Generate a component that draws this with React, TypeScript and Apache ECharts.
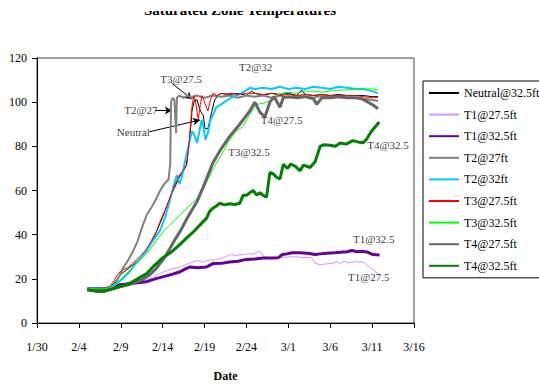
import React, { useEffect, useRef } from "react";
import * as echarts from "echarts";

// x values are days after Jan 30
const tickLabels = ["1/30", "2/4", "2/9", "2/14", "2/19", "2/24", "3/1", "3/6", "3/11", "3/16"];

const neutral325 = [[6,15.5],[8,15.5],[8.6,16],[9.2,18],[10,22],[11,25],[12,28],[13,32],[14,39],[15,48],[16,58],[17,66],[17.8,71],[18.2,82],[18.5,96],[18.8,101],[19.1,101],[19.5,96],[19.85,94],[20.05,88],[20.4,88],[20.85,95.5],[21.2,101],[21.6,103],[22,104],[23,103.5],[24,104],[25,103],[25.6,105],[26,104],[27,103],[28,104],[29,103.5],[30,104],[31,103],[31.6,105.5],[32,103.5],[33,103],[34,103.5],[35,103],[36,103.5],[37,103],[38,103],[39,103],[40,102.5],[40.7,102.5]];
const t1_275 = [[6,15.5],[8,15.5],[8.7,16],[9.5,17],[10.3,17.5],[11.1,18],[12.1,19],[13.1,19.5],[14.1,21.5],[15.1,23.2],[16.1,24.5],[17.1,25.4],[18.1,27],[19.1,28.3],[19.8,27.5],[20.5,28.5],[21.2,28.5],[21.8,29.1],[22.5,30],[23.2,31],[23.8,30.6],[24.5,31],[25.2,31.3],[25.8,31.3],[26.6,32.5],[27.1,30],[27.6,29.3],[28.2,29.8],[29,29.5],[29.6,29.8],[30.5,30],[31.4,29.8],[32.2,29.6],[32.8,29.5],[33.2,27],[33.8,26.4],[34.6,26.8],[35.2,27],[35.8,27.9],[36.2,26.8],[36.6,27.9],[37.2,27.3],[38,27.8],[38.9,27.5],[39.7,25.4],[40.3,23.5],[40.9,22]];
const t1_325 = [[6,15.5],[8,15.5],[8.8,16],[9.9,17.3],[11,17.8],[12,18.2],[13.1,18.7],[14.1,20],[15.1,21],[16.1,22],[17.1,23.2],[17.7,24.5],[18.3,25.4],[19.2,25],[20.25,25.4],[21,26.9],[22,27],[23,27.6],[24,28],[25,28.8],[26,29],[27,29.4],[28,29.4],[28.8,29.6],[29.3,31],[29.8,31.3],[30.5,31.8],[31.5,31.8],[32.5,31.5],[33.2,31],[33.8,31.3],[34.6,31.6],[35.5,31.8],[36.2,32],[37,32.3],[37.6,32.8],[38.2,32.3],[38.8,32.5],[39.5,32],[40.1,31],[40.9,30.8]];
const t2_27 = [[6,15.5],[6.8,15],[7.2,14],[8,14],[8.6,15],[9.2,17],[9.8,21],[10.3,25],[10.8,28],[11.4,32],[12,37],[12.6,44],[13.1,49],[13.6,52],[14.2,56],[14.7,60],[15.2,63],[15.7,65],[15.9,72],[16.0,100],[16.2,102],[16.4,101],[16.6,86],[16.7,102],[17,103],[17.5,102],[18,103],[18.5,102],[19,103],[20,102],[21,103],[22,102.5],[23,103],[24,102],[25,103],[26,102.5],[27,103],[28,102],[29,103],[30,102],[31,103],[32,102.5],[33,102],[34,103],[35,102],[36,102.5],[37,102],[38,102],[39,101.5],[40,101],[40.7,100.5]];
const t2_32 = [[6,15.5],[8,15.5],[8.6,16],[9.4,17.5],[10.2,20],[11,23],[11.6,26],[12.3,29],[13.1,33],[13.8,37],[14.7,42],[15.3,48],[15.9,56],[16.3,62],[16.7,67],[17,63],[17.3,66],[17.6,72],[17.9,77],[18.2,82],[18.5,87],[18.8,85],[19.1,81.5],[19.4,87],[19.65,92],[19.9,88],[20.1,83],[20.4,86],[20.7,92],[21.0,94],[21.4,97.7],[22,99],[22.6,100.7],[23.2,102],[23.7,103],[24.2,103.6],[24.8,105],[25.4,106.5],[26,106],[27,106.5],[28,106],[29,107],[30,106],[31,106.5],[32,106],[33,107],[34,106.5],[35,106],[36,107],[37,106.5],[38,106],[39,106],[40,105],[40.7,104]];
const t3_275 = [[6,15.5],[7,15.5],[8,15.5],[8.6,16.5],[9.2,19],[9.6,22],[10.2,24],[10.8,25],[11.4,27],[12,29],[12.5,31],[13,33],[13.6,37],[14.2,41],[14.8,47],[15.4,52],[15.9,57],[16.4,62],[17,67],[17.6,70],[17.9,72],[18.2,84],[18.5,98],[18.7,103],[18.9,101],[19.25,92],[19.5,99],[19.7,103],[20,100],[20.4,96],[20.7,101],[21,104],[21.5,103],[22,104],[22.5,103.5],[23,104],[24,103.5],[25,104],[26,104],[27,103.5],[28,104],[29,103],[30,103.5],[31,103],[32,103.5],[33,103],[34,103.5],[35,103],[36,103],[37,103],[38,103],[39,102.5],[40,102],[40.7,102]];
const t3_325 = [[6,15.5],[8,15.5],[8.8,16],[9.5,18],[10.3,21],[11.1,24],[12,27.5],[13.1,31.3],[14,36],[15.1,41.6],[16,45],[17.1,49],[18,52.5],[19.1,56.4],[20,62],[21,69.7],[22,76],[23,83],[23.8,87],[24.6,89],[25.3,94],[26.2,99],[27,99.5],[27.8,100.5],[28.6,103],[29.2,104],[30,104.5],[31,104],[32,105],[33,105],[34,104.5],[35,105],[36,105.5],[37,105.5],[38,106],[39,106],[40,106],[40.7,105.5]];
const t4_275 = [[6,15],[7,14.5],[8,14.5],[8.6,15],[9.5,16],[10.5,17],[11.5,18],[12.5,19.5],[13.5,22],[14.2,24.5],[14.7,27],[15.3,30],[15.9,34],[16.5,38],[17.1,41.6],[18,48],[19.1,55],[20,63],[21,72.6],[22,79],[23,84.5],[24.2,90],[25,94],[25.4,96],[26,100],[26.6,95.5],[27.2,93.3],[27.8,100],[28.3,102.5],[29,97.7],[29.4,102],[30,102.5],[31,102],[32,102.5],[33,101.5],[33.4,99],[34,102],[35,102],[36,102.5],[37,102],[38,102],[38.8,101.5],[39.5,100],[40.2,98.5],[40.7,97]];
const t4_325 = [[6,15],[7,14.5],[8,14.5],[8.6,15],[9.5,16],[10.3,17],[11.1,18],[12,20],[13.1,22.4],[14,26],[15.1,29.8],[16,32],[17.1,35.7],[18,39],[18.6,41],[19.1,43],[19.6,45],[20.25,47.5],[20.6,50.5],[21,52],[21.4,53],[21.8,54.2],[22.4,53.5],[23,54],[23.6,53.7],[24.2,54.2],[24.6,57.8],[25,57.8],[25.4,59],[25.8,60],[26.2,58],[26.6,59],[27,57.8],[27.4,57],[27.8,68.2],[28.2,67.5],[28.6,66],[29,65.2],[29.4,71.9],[29.9,70],[30.3,72],[30.8,71],[31.4,69],[31.8,71.5],[32.6,70.4],[33.2,73],[33.8,80],[34.2,80.7],[35,80.5],[35.6,80],[36.2,81.5],[36.9,81],[37.7,82.6],[38.3,82],[38.9,81.6],[39.3,83],[39.9,86.7],[40.4,89],[40.85,91]];

const seriesNames = ["Neutral@32.5ft", "T1@27.5ft", "T1@32.5ft", "T2@27ft", "T2@32ft", "T3@27.5ft", "T3@32.5ft", "T4@27.5ft", "T4@32.5ft"];
const seriesData = [neutral325, t1_275, t1_325, t2_27, t2_32, t3_275, t3_325, t4_275, t4_325];
const seriesColors = ["#000000", "#CC99FF", "#660099", "#808080", "#00CCFF", "#FF0000", "#00FF00", "#666666", "#008000"];
const seriesWidths = [1, 1, 3, 2, 2, 1, 1, 3, 3];

// annotations: [day, value, text]
const notes = [
  [17.2, 110.7, "T3@27.5"],
  [12.4, 96.3, "T2@27"],
  [11.5, 86.4, "Neutral"],
  [26.1, 115.8, "T2@32"],
  [29.2, 92.1, "T4@27.5"],
  [25.3, 77.5, "T3@32.5"],
  [41.9, 80.6, "T4@32.5"],
  [40.2, 38.1, "T1@32.5"],
  [39.6, 20.8, "T1@27.5"],
];
const arrows = [
  [[16.1, 108.5], [18.5, 101.4]],
  [[14.1, 96.2], [16.1, 96.2]],
  [[13.4, 86.6], [19.45, 91.9]],
];

const FONT = "Liberation Serif";

export default function App() {
  const ref = useRef<HTMLDivElement>(null);
  useEffect(() => {
    const chart = echarts.init(ref.current!, null, { renderer: "svg" });
    const lines = seriesNames.map((name, i) => ({
      name,
      type: "line",
      data: seriesData[i],
      symbol: "none",
      showSymbol: false,
      lineStyle: { color: seriesColors[i], width: seriesWidths[i] },
      itemStyle: { color: seriesColors[i] },
      z: 2 + i,
    }));
    chart.setOption({
      animation: false,
      textStyle: { fontFamily: FONT },
      grid: { left: 37, top: 58, right: 125, bottom: 58, show: true, borderColor: "#404040", borderWidth: 1, backgroundColor: "transparent" },
      graphic: [
        { type: "text", x: 240, y: 17, z: 10, style: { text: "Saturated Zone Temperatures", fontFamily: FONT, fontSize: 15, fontWeight: "bold", fill: "#000", textAlign: "center", textVerticalAlign: "bottom" } },
        { type: "rect", shape: { x: 0, y: 0, width: 539, height: 11 }, z: 20, style: { fill: "#fff" } },
      ],
      legend: {
        orient: "vertical",
        left: 423,
        top: 81,
        padding: [6, 40, 6, 5],
        itemWidth: 30,
        itemHeight: 14,
        itemGap: 9.6,
        borderColor: "#000",
        borderWidth: 1,
        backgroundColor: "#fff",
        itemStyle: { opacity: 0 },
        textStyle: { fontFamily: FONT, fontSize: 12, color: "#000" },
        data: seriesNames,
      },
      xAxis: {
        type: "value",
        min: 0,
        max: 45,
        interval: 5,
        name: "Date",
        nameLocation: "middle",
        nameGap: 47,
        nameTextStyle: { fontFamily: FONT, fontSize: 12, fontWeight: "bold", color: "#000" },
        axisLine: { lineStyle: { color: "#000", width: 1 } },
        axisTick: { show: true, inside: false, length: 5, lineStyle: { color: "#000" } },
        axisLabel: { margin: 18, fontFamily: FONT, fontSize: 12, color: "#000", formatter: (v: number) => tickLabels[Math.round(v / 5)] ?? "" },
        splitLine: { show: false },
      },
      yAxis: {
        type: "value",
        min: 0,
        max: 120,
        interval: 20,
        axisLine: { show: true, lineStyle: { color: "#000", width: 1 } },
        axisTick: { show: true, inside: false, length: 5, lineStyle: { color: "#000" } },
        axisLabel: { margin: 10, fontFamily: FONT, fontSize: 12, color: "#000" },
        splitLine: { show: false },
      },
      series: [
        ...lines,
        {
          name: "notes",
          type: "scatter",
          data: notes,
          symbolSize: 0,
          z: 20,
          silent: true,
          label: {
            show: true,
            position: "inside",
            formatter: (p: any) => p.data[2],
            fontFamily: FONT,
            fontSize: 11,
            color: "#000",
          },
          markLine: {
            silent: true,
            symbol: ["none", "arrow"],
            symbolSize: [6, 7],
            label: { show: false },
            lineStyle: { color: "#000", width: 1, type: "solid" },
            data: arrows.map((a) => [{ coord: a[0] }, { coord: a[1] }]),
          },
        },
      ],
    });
    return () => chart.dispose();
  }, []);
  return <div ref={ref} style={{ width: 539, height: 387, position: "absolute", left: 0, top: 0 }} />;
}
